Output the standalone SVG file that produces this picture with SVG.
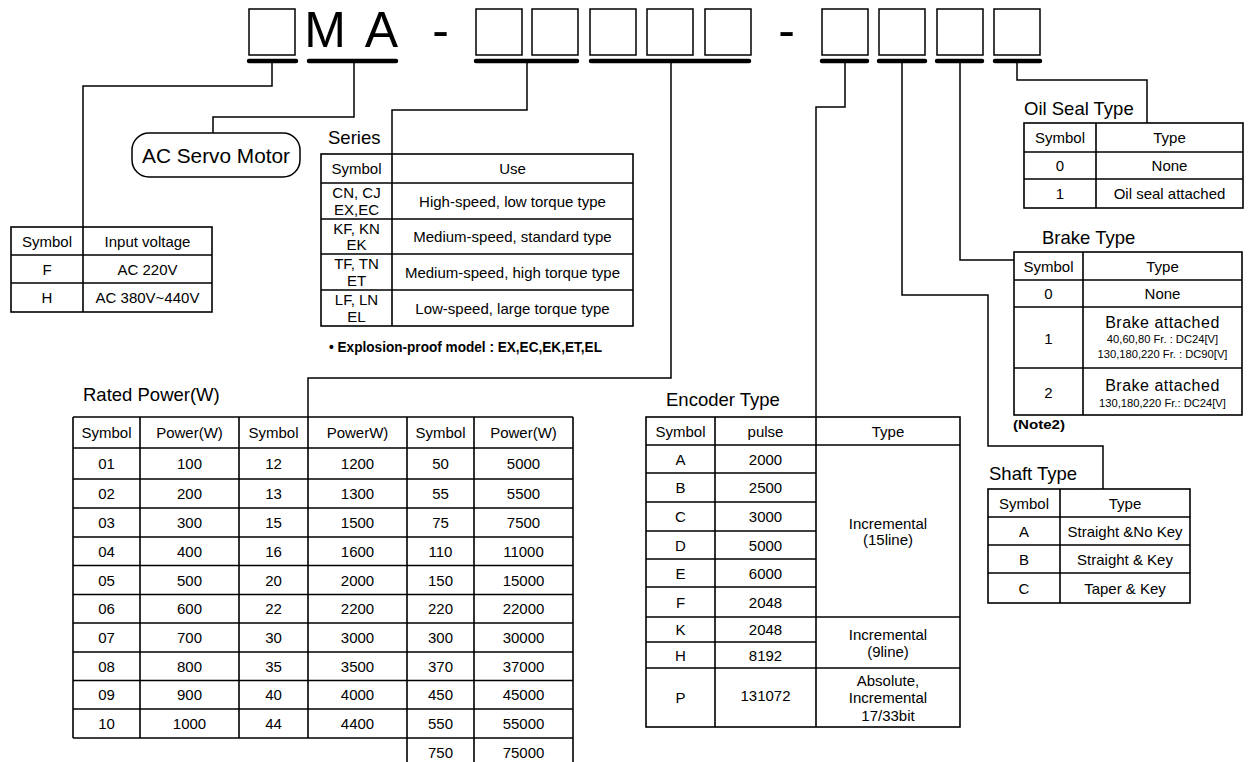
<svg xmlns="http://www.w3.org/2000/svg" width="1250" height="762" viewBox="0 0 1250 762">
<style>
text{font-family:"Liberation Sans",Arial,sans-serif;fill:#000}
.t{font-size:15px;text-anchor:middle;dominant-baseline:central}
.ttl{font-size:18.5px}
.big{font-size:50px;text-anchor:middle}
.sm{font-size:11.2px;text-anchor:middle;dominant-baseline:central}
.ba{font-size:16px;text-anchor:middle;dominant-baseline:central;letter-spacing:0.5px}
.b{font-weight:bold}
.g{fill:none;stroke:#000;stroke-width:1.6}
.c{fill:none;stroke:#000;stroke-width:1.5}
.bx{fill:none;stroke:#000;stroke-width:1.5}
.bar{stroke:#000;stroke-width:4.5;stroke-linecap:round}
</style>
<rect width="1250" height="762" fill="#fff"/>

<g id="code">
  <rect class="bx" x="249" y="9" width="46" height="46"/>
  <text class="big" x="325" y="47">M</text>
  <text class="big" x="381.5" y="47">A</text>
  <text class="big" x="440.5" y="47">-</text>
  <rect class="bx" x="476" y="9" width="46" height="46"/>
  <rect class="bx" x="532" y="9" width="46" height="46"/>
  <rect class="bx" x="590" y="9" width="46" height="46"/>
  <rect class="bx" x="647" y="9" width="46" height="46"/>
  <rect class="bx" x="705" y="9" width="46" height="46"/>
  <text class="big" x="786.5" y="47">-</text>
  <rect class="bx" x="822" y="9" width="46" height="46"/>
  <rect class="bx" x="879" y="9" width="46" height="46"/>
  <rect class="bx" x="937" y="9" width="46" height="46"/>
  <rect class="bx" x="994" y="9" width="46" height="46"/>
  <line class="bar" x1="249" y1="61" x2="296" y2="61"/>
  <line class="bar" x1="309" y1="61" x2="396" y2="61"/>
  <line class="bar" x1="476" y1="61" x2="577" y2="61"/>
  <line class="bar" x1="591" y1="61" x2="749" y2="61"/>
  <line class="bar" x1="822" y1="61" x2="867" y2="61"/>
  <line class="bar" x1="879" y1="61" x2="925" y2="61"/>
  <line class="bar" x1="937" y1="61" x2="982" y2="61"/>
  <line class="bar" x1="995" y1="61" x2="1040" y2="61"/>
</g>

<g id="connectors">
  <path class="c" d="M272,61 V86 H83 V227"/>
  <path class="c" d="M354,61 V117 H213 V133"/>
  <path class="c" d="M527,61 V110 H392 V154"/>
  <path class="c" d="M671,61 V378 H308 V417"/>
  <path class="c" d="M845,61 V107 H816 V417"/>
  <path class="c" d="M902,61 V295 H988 V446 H1103 V489"/>
  <path class="c" d="M960,61 V260 H1014"/>
  <path class="c" d="M1017,61 V80 H1147 V123"/>
</g>

<g id="servo">
  <rect class="bx" x="132" y="133" width="168" height="44" rx="17"/>
  <text x="216" y="163" font-size="20.8" text-anchor="middle">AC Servo Motor</text>
</g>

<g id="voltage">
  <rect class="g" x="11" y="227" width="201" height="85"/>
  <path class="g" d="M83,227 V312 M11,255 H212 M11,283 H212"/>
  <text class="t" x="47" y="241">Symbol</text>
  <text class="t" x="147.5" y="241">Input voltage</text>
  <text class="t" x="47" y="269">F</text>
  <text class="t" x="147.5" y="269">AC 220V</text>
  <text class="t" x="47" y="297.5">H</text>
  <text class="t" x="147.5" y="297.5">AC 380V~440V</text>
</g>

<g id="series">
  <text class="ttl" x="328" y="144">Series</text>
  <rect class="g" x="321" y="154" width="312" height="172"/>
  <path class="g" d="M392,154 V326 M321,183 H633 M321,219 H633 M321,254 H633 M321,290 H633"/>
  <text class="t" x="356.5" y="168.5">Symbol</text>
  <text class="t" x="512.5" y="168.5">Use</text>
  <text class="t" x="356.5" y="192.5" font-size="14.5">CN, CJ</text>
  <text class="t" x="356.5" y="209" font-size="14.5">EX,EC</text>
  <text class="t" x="512.5" y="201">High-speed, low torque type</text>
  <text class="t" x="356.5" y="228" font-size="14.5">KF, KN</text>
  <text class="t" x="356.5" y="244.5" font-size="14.5">EK</text>
  <text class="t" x="512.5" y="236.5">Medium-speed, standard type</text>
  <text class="t" x="356.5" y="263.5" font-size="14.5">TF, TN</text>
  <text class="t" x="356.5" y="280" font-size="14.5">ET</text>
  <text class="t" x="512.5" y="272">Medium-speed, high torque type</text>
  <text class="t" x="356.5" y="299.5" font-size="14.5">LF, LN</text>
  <text class="t" x="356.5" y="316" font-size="14.5">EL</text>
  <text class="t" x="512.5" y="308">Low-speed, large torque type</text>
  <text class="b" x="329" y="352" font-size="14.5" textLength="273" lengthAdjust="spacingAndGlyphs">• Explosion-proof model : EX,EC,EK,ET,EL</text>
</g>

<g id="power">
  <text class="ttl" x="83" y="401">Rated Power(W)</text>
  <path class="g" d="M73,417 H573 M73,448 H573 M73,479 H573 M73,508 H573 M73,537 H573 M73,565.5 H573 M73,594.5 H573 M73,623 H573 M73,652 H573 M73,680.5 H573 M73,709 H573 M73,738 H573"/>
  <path class="g" d="M73,417 V738 M140,417 V738 M239,417 V738 M308,417 V738 M407,417 V767 M474,417 V767 M573,417 V767"/>
  <g>
    <text class="t" x="106.5" y="432.5">Symbol</text><text class="t" x="189.5" y="432.5">Power(W)</text><text class="t" x="273.5" y="432.5">Symbol</text><text class="t" x="357.5" y="432.5">PowerW)</text><text class="t" x="440.5" y="432.5">Symbol</text><text class="t" x="523.5" y="432.5">Power(W)</text>
    <text class="t" x="106.5" y="463.5">01</text><text class="t" x="189.5" y="463.5">100</text><text class="t" x="273.5" y="463.5">12</text><text class="t" x="357.5" y="463.5">1200</text><text class="t" x="440.5" y="463.5">50</text><text class="t" x="523.5" y="463.5">5000</text>
    <text class="t" x="106.5" y="493.5">02</text><text class="t" x="189.5" y="493.5">200</text><text class="t" x="273.5" y="493.5">13</text><text class="t" x="357.5" y="493.5">1300</text><text class="t" x="440.5" y="493.5">55</text><text class="t" x="523.5" y="493.5">5500</text>
    <text class="t" x="106.5" y="522.5">03</text><text class="t" x="189.5" y="522.5">300</text><text class="t" x="273.5" y="522.5">15</text><text class="t" x="357.5" y="522.5">1500</text><text class="t" x="440.5" y="522.5">75</text><text class="t" x="523.5" y="522.5">7500</text>
    <text class="t" x="106.5" y="551.25">04</text><text class="t" x="189.5" y="551.25">400</text><text class="t" x="273.5" y="551.25">16</text><text class="t" x="357.5" y="551.25">1600</text><text class="t" x="440.5" y="551.25">110</text><text class="t" x="523.5" y="551.25">11000</text>
    <text class="t" x="106.5" y="580">05</text><text class="t" x="189.5" y="580">500</text><text class="t" x="273.5" y="580">20</text><text class="t" x="357.5" y="580">2000</text><text class="t" x="440.5" y="580">150</text><text class="t" x="523.5" y="580">15000</text>
    <text class="t" x="106.5" y="608.75">06</text><text class="t" x="189.5" y="608.75">600</text><text class="t" x="273.5" y="608.75">22</text><text class="t" x="357.5" y="608.75">2200</text><text class="t" x="440.5" y="608.75">220</text><text class="t" x="523.5" y="608.75">22000</text>
    <text class="t" x="106.5" y="637.5">07</text><text class="t" x="189.5" y="637.5">700</text><text class="t" x="273.5" y="637.5">30</text><text class="t" x="357.5" y="637.5">3000</text><text class="t" x="440.5" y="637.5">300</text><text class="t" x="523.5" y="637.5">30000</text>
    <text class="t" x="106.5" y="666.25">08</text><text class="t" x="189.5" y="666.25">800</text><text class="t" x="273.5" y="666.25">35</text><text class="t" x="357.5" y="666.25">3500</text><text class="t" x="440.5" y="666.25">370</text><text class="t" x="523.5" y="666.25">37000</text>
    <text class="t" x="106.5" y="694.75">09</text><text class="t" x="189.5" y="694.75">900</text><text class="t" x="273.5" y="694.75">40</text><text class="t" x="357.5" y="694.75">4000</text><text class="t" x="440.5" y="694.75">450</text><text class="t" x="523.5" y="694.75">45000</text>
    <text class="t" x="106.5" y="723.5">10</text><text class="t" x="189.5" y="723.5">1000</text><text class="t" x="273.5" y="723.5">44</text><text class="t" x="357.5" y="723.5">4400</text><text class="t" x="440.5" y="723.5">550</text><text class="t" x="523.5" y="723.5">55000</text>
    <text class="t" x="440.5" y="752.5">750</text><text class="t" x="523.5" y="752.5">75000</text>
  </g>
</g>

<g id="encoder">
  <text class="ttl" x="666" y="406">Encoder Type</text>
  <rect class="g" x="646" y="417" width="314" height="310"/>
  <path class="g" d="M715,417 V727 M816,417 V727 M646,445 H960 M646,473 H816 M646,502 H816 M646,531 H816 M646,559 H816 M646,587 H816 M646,617 H960 M646,642 H816 M646,668 H960"/>
  <text class="t" x="680.5" y="431">Symbol</text><text class="t" x="765.5" y="431">pulse</text><text class="t" x="888" y="431">Type</text>
  <text class="t" x="680.5" y="459">A</text><text class="t" x="765.5" y="459">2000</text>
  <text class="t" x="680.5" y="487.5">B</text><text class="t" x="765.5" y="487.5">2500</text>
  <text class="t" x="680.5" y="516.5">C</text><text class="t" x="765.5" y="516.5">3000</text>
  <text class="t" x="680.5" y="545">D</text><text class="t" x="765.5" y="545">5000</text>
  <text class="t" x="680.5" y="573">E</text><text class="t" x="765.5" y="573">6000</text>
  <text class="t" x="680.5" y="602">F</text><text class="t" x="765.5" y="602">2048</text>
  <text class="t" x="680.5" y="629.5">K</text><text class="t" x="765.5" y="629.5">2048</text>
  <text class="t" x="680.5" y="655">H</text><text class="t" x="765.5" y="655">8192</text>
  <text class="t" x="680.5" y="697.5">P</text><text class="t" x="765.5" y="695">131072</text>
  <text class="t" x="888" y="523">Incremental</text><text class="t" x="888" y="539.5">(15line)</text>
  <text class="t" x="888" y="634">Incremental</text><text class="t" x="888" y="651.5">(9line)</text>
  <text class="t" x="888" y="680">Absolute,</text><text class="t" x="888" y="697.5">Incremental</text><text class="t" x="888" y="715">17/33bit</text>
</g>

<g id="oilseal">
  <text class="ttl" x="1024" y="115">Oil Seal Type</text>
  <rect class="g" x="1024" y="123" width="219" height="85"/>
  <path class="g" d="M1096,123 V208 M1024,152 H1243 M1024,179 H1243"/>
  <text class="t" x="1060" y="137.5">Symbol</text><text class="t" x="1169.5" y="137.5">Type</text>
  <text class="t" x="1060" y="165.5">0</text><text class="t" x="1169.5" y="165.5">None</text>
  <text class="t" x="1060" y="193.5">1</text><text class="t" x="1169.5" y="193.5">Oil seal attached</text>
</g>

<g id="brake">
  <text class="ttl" x="1042" y="244">Brake Type</text>
  <rect class="g" x="1014" y="252" width="228" height="163"/>
  <path class="g" d="M1083,252 V415 M1014,280 H1242 M1014,307 H1242 M1014,368 H1242"/>
  <text class="t" x="1048.5" y="266">Symbol</text><text class="t" x="1162.5" y="266">Type</text>
  <text class="t" x="1048.5" y="293.5">0</text><text class="t" x="1162.5" y="293.5">None</text>
  <text class="t" x="1048.5" y="338">1</text>
  <text class="ba" x="1162.5" y="322">Brake attached</text>
  <text class="sm" x="1162.5" y="339">40,60,80 Fr. : DC24[V]</text>
  <text class="sm" x="1162.5" y="354">130,180,220 Fr. : DC90[V]</text>
  <text class="t" x="1048.5" y="392.5">2</text>
  <text class="ba" x="1162.5" y="385">Brake attached</text>
  <text class="sm" x="1162.5" y="402.5">130,180,220 Fr.: DC24[V]</text>
  <text class="b" x="1013" y="429" font-size="12" textLength="52" lengthAdjust="spacingAndGlyphs">(Note2)</text>
</g>

<g id="shaft">
  <text class="ttl" x="989" y="480">Shaft Type</text>
  <rect class="g" x="988" y="489" width="202" height="114"/>
  <path class="g" d="M1060,489 V603 M988,517 H1190 M988,545 H1190 M988,573 H1190"/>
  <text class="t" x="1024" y="503">Symbol</text><text class="t" x="1125" y="503">Type</text>
  <text class="t" x="1024" y="531">A</text><text class="t" x="1125" y="531">Straight &amp;No Key</text>
  <text class="t" x="1024" y="559">B</text><text class="t" x="1125" y="559">Straight &amp; Key</text>
  <text class="t" x="1024" y="588">C</text><text class="t" x="1125" y="588">Taper &amp; Key</text>
</g>
</svg>
